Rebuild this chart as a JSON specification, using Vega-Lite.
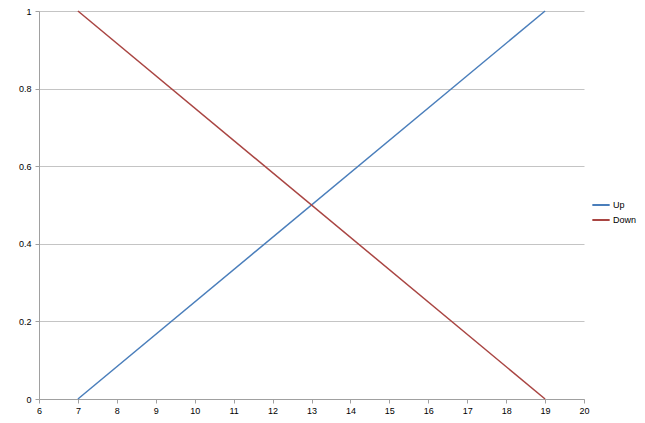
{
  "$schema": "https://vega.github.io/schema/vega-lite/v6.json",
  "autosize": {"type": "none"},
  "width": 545,
  "height": 388,
  "padding": {"left": 39, "top": 11, "right": 61, "bottom": 24},
  "background": "white",
  "config": {
    "view": {"stroke": null},
    "font": "Liberation Sans"
  },
  "data": {
    "values": [
      {"x": 7, "y": 0, "series": "Up"},
      {"x": 19, "y": 1, "series": "Up"},
      {"x": 7, "y": 1, "series": "Down"},
      {"x": 19, "y": 0, "series": "Down"}
    ]
  },
  "mark": {"type": "line", "strokeWidth": 1.5},
  "encoding": {
    "x": {
      "field": "x",
      "type": "quantitative",
      "scale": {"domain": [6, 20], "nice": false, "zero": false},
      "axis": {
        "title": null,
        "values": [6,7,8,9,10,11,12,13,14,15,16,17,18,19,20],
        "grid": false,
        "domainColor": "#A0A0A0",
        "tickColor": "#A0A0A0",
        "tickSize": 4,
        "labelFontSize": 9,
        "labelColor": "#000000",
        "labelPadding": 3,
        "labelFlush": false
      }
    },
    "y": {
      "field": "y",
      "type": "quantitative",
      "scale": {"domain": [0, 1], "nice": false},
      "axis": {
        "title": null,
        "values": [0, 0.2, 0.4, 0.6, 0.8, 1],
        "format": "~g",
        "grid": true,
        "gridColor": "#C4C4C4",
        "gridWidth": 1,
        "domainColor": "#A0A0A0",
        "tickColor": "#A0A0A0",
        "tickSize": 4,
        "labelFontSize": 9,
        "labelColor": "#000000",
        "labelPadding": 4,
        "labelFlush": false
      }
    },
    "color": {
      "field": "series",
      "type": "nominal",
      "scale": {"domain": ["Up", "Down"], "range": ["#4A7EBB", "#A94542"]},
      "legend": {
        "title": null,
        "orient": "none",
        "legendX": 552,
        "legendY": 184,
        "symbolType": "stroke",
        "symbolSize": 300,
        "symbolStrokeWidth": 2,
        "labelFontSize": 9,
        "labelOffset": 2,
        "rowPadding": 0
      }
    }
  }
}
